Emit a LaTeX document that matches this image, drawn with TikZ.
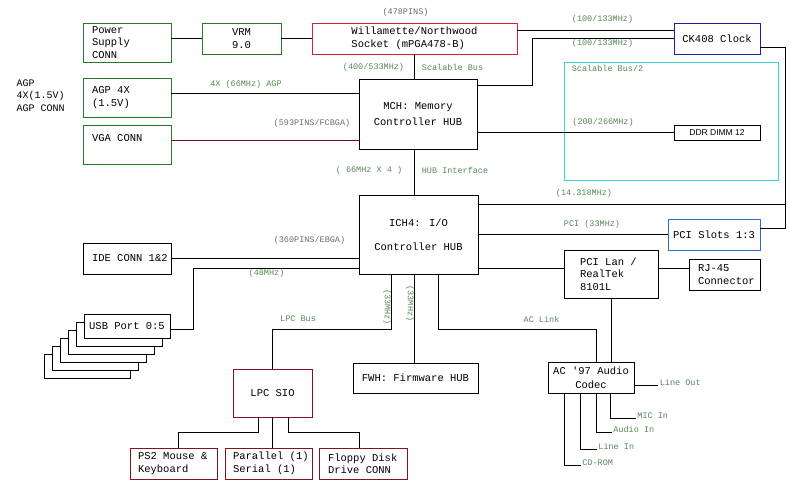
\documentclass[tikz,border=0pt]{standalone}
\usepackage{fontspec}
\newfontfamily\courfont{Liberation Mono}[Ligatures=TeXOff, WordSpace={1,0,0}]
\newfontfamily\arialfont{Liberation Sans}
\usetikzlibrary{calc}
\definecolor{boxgreen}{RGB}{40,120,40}
\definecolor{lblgreen}{RGB}{85,135,85}
\definecolor{pingray}{RGB}{105,105,105}
\definecolor{cpured}{RGB}{205,35,50}
\definecolor{siored}{RGB}{130,20,30}
\definecolor{vgaline}{RGB}{125,0,50}
\definecolor{clkblue}{RGB}{30,30,165}
\definecolor{pciblue}{RGB}{45,110,200}
\definecolor{sbcyan}{RGB}{60,215,220}

\begin{document}
\begin{tikzpicture}[
  x=1pt, y=-1pt,
  box/.style={draw=black, line width=0.8pt, inner sep=0pt, align=center,
              font=\courfont\fontsize{10.5}{12.5}\selectfont},
  sz/.style 2 args={minimum width=#1, minimum height=#2},
  lft/.style={align=left, text width=#1,
              execute at begin node={\spaceskip=0pt\xspaceskip=0pt\relax}},
  lbl/.style={font=\courfont\fontsize{8.5}{10}\selectfont, text=lblgreen, inner sep=1pt},
  pin/.style={lbl, text=pingray},
  wire/.style={draw=black, line width=0.8pt}
]
\useasboundingbox (0,0) rectangle (789,481);

% ================================================= 1. CPU, MCH and clock
\node[box, draw=boxgreen, sz={88}{39}, lft=70] (psu) at (127,42.5) {Power\\Supply\\CONN};
\node[box, draw=boxgreen, sz={79}{31}] (vrm) at (241.5,38.5) {VRM\\9.0};
\node[box, draw=cpured, sz={205}{31}, align=left] (cpu) at (414.5,38.5)
  {Willamette/Northwood\\Socket (mPGA478-B)};
\node[box, draw=clkblue, sz={86}{31}] (clk) at (717,38.5) {CK408 Clock};
\node[box, draw=boxgreen, sz={88}{39}, lft=70] (agp) at (127,97.5) {AGP~4X\\(1.5V)};
\node[box, draw=boxgreen, sz={88}{39}, lft=70] (vga) at (127,144.5) {VGA~CONN\\\mbox{}};
\node[box, sz={118}{70}] (mch) at (418,114) {MCH: Memory\\[3.5pt]Controller HUB};
\node[box, draw=sbcyan, sz={214}{118}] (sbus) at (671,121) {};
\node[box, sz={86}{15}, font=\arialfont\fontsize{8.5}{10}\selectfont] (ddr) at (717,132.5) {DDR DIMM 12};
\node[font=\courfont\fontsize{10}{12.5}\selectfont, align=left, anchor=west] (agpc) at (13,95.5)
  {AGP\\4X(1.5V)\\AGP CONN};

\coordinate (kb) at (532,85);
\coordinate (cr) at (785,47);

\draw[wire] (psu.east |- vrm.west) -- (vrm.west);
\draw[wire] (vrm.east) -- (cpu.west);
\draw[wire] (cpu.south) -- (cpu.south |- mch.north);
\draw[wire] ([yshift=8.5]cpu.east) -- ([yshift=8.5]clk.west);
\draw[wire] (clk.west) -| (kb) -- (kb -| mch.east);
\draw[wire] ([yshift=4.5]agp.east) -- ([yshift=4.5]agp.east -| mch.west);
\draw[wire, draw=vgaline] ([yshift=4.5]vga.east) -- ([yshift=4.5]vga.east -| mch.west);
\draw[wire] (ddr.west) -- (ddr.west -| mch.east);

\node[pin] (p478) at (405.5,12) {(478PINS)};
\node[lbl] (fsb) at (373.5,67) {(400/533MHz)};
\node[lbl] (sbl) at (452.5,67) {Scalable Bus};
\node[lbl] (agpl) at (246,84) {4X (66MHz) AGP};
\node[pin] (p593) at (312,123) {(593PINS/FCBGA)};
\node[lbl] (ck1) at (602.5,19) {(100/133MHz)};
\node[lbl] (ck2) at (602.5,43) {(100/133MHz)};
\node[lbl] (sb2) at (607.5,68) {Scalable Bus/2};
\node[lbl] (ddrl) at (603,122) {(200/266MHz)};

% ================================================= 2. ICH4 and its devices
\node[box, sz={119}{79}] (ich) at (418.5,234.5) {ICH4: I/O\\[11.5pt]Controller HUB};
\node[box, draw=pciblue, sz={92}{31}] (slots) at (714,234.5) {PCI Slots 1:3};
\node[box, sz={94}{48}, lft=62] (lan) at (611,274) {PCI~Lan~/\\RealTek\\8101L};
\node[box, sz={71}{31}, lft=53] (rj) at (724.5,274.5) {RJ-45\\Connector};
\node[box, sz={88}{31}, lft=70] (ide) at (127,258.5) {IDE~CONN~1\&2};
\coordinate (usbc) at (127,326);
\foreach \k in {5,4,3,2,1}
  \node[box, sz={86}{24}, fill=white] (usb\k) at ([shift={({-8*\k},{8*\k})}]usbc) {};
\node[box, sz={86}{24}, fill=white] (usb) at (usbc) {USB Port 0:5};
\node[box, sz={125}{30}] (fwh) at (415.5,378) {FWH: Firmware HUB};
\node[box, sz={86}{31}] (ac) at (591,377.5) {AC '97 Audio\\[1.5pt]Codec};

\draw[wire] (cpu.south |- mch.south) -- (cpu.south |- ich.north);
\draw[wire] ([yshift=-8.5]clk.east) -- (cr) |- ([yshift=6.5]slots.east);
\draw[wire] ([yshift=30.5]ich.east) -- ([yshift=30.5]ich.east -| cr);
\draw[wire] (ich.east) -- (slots.west);
\draw[wire] ([yshift=6]lan.west) -- ([yshift=6]lan.west -| ich.east);
\draw[wire] ([yshift=6]lan.east) -- ([yshift=6]lan.east -| rj.west);
\draw[wire] (lan.south) -- (lan.south |- ac.north);
\draw[wire] ([xshift=19.5]ich.south) -- ++(0,55) -| ([xshift=5]ac.north);
\draw[wire] ([xshift=-4.5]ich.south) -- ([xshift=-4.5]ich.south |- fwh.north);
\draw[wire] (ide.east) -- (ide.east -| ich.west);
\draw[wire] ([yshift=-3]usb.east) -- ++(23,0) |- ([yshift=-33.5]ich.west);

\draw[wire] ([yshift=-7.5]ac.east) -- ++(24,0)
  node[lbl, anchor=base west] (lout) {Line Out};
\foreach \dx/\dy/\len/\txt/\nm in {19/25/26/MIC In/mic, 5/39/16/Audio In/ain,
                                   -11/56/17/Line In/lin, -27/72/17/CD-ROM/cdr}
  \draw[wire] ([xshift=\dx]ac.south) -- ++(0,\dy) -- ++(\len,0)
    node[lbl, anchor=base west] (\nm) {\txt};

\node[lbl] (hubl) at (369,170) {( 66MHz X 4 )};
\node[lbl] (hubi) at (455,170) {HUB Interface};
\node[lbl] (osc) at (584,193) {(14.318MHz)};
\node[lbl] (pcil) at (592,224) {PCI (33MHz)};
\node[pin] (p360) at (309.5,240) {(360PINS/EBGA)};
\node[lbl] (usbl) at (266.5,273) {(48MHz)};
\node[lbl] (acl) at (541.5,319) {AC Link};

% ================================================= 3. LPC super I/O
\node[box, draw=siored, sz={79}{48}] (sio) at (272.5,393) {LPC SIO};
\node[box, draw=siored, sz={87}{31}, lft=71] (ps2) at (173.5,463.5) {PS2~Mouse~\&\\Keyboard};
\node[box, draw=siored, sz={87}{31}, lft=71] (par) at (268.5,463.5) {Parallel~(1)\\Serial~(1)};
\node[box, draw=siored, sz={88}{31}, lft=70] (fdd) at (363,463.5) {Floppy~Disk\\Drive~CONN};

\draw[wire] ([xshift=-27.5]ich.south) -- ++(0,55) -| (sio.north);
\draw[wire] ([xshift=-14.5]sio.south) -- ++(0,15) -| ([xshift=4.5]ps2.north);
\draw[wire] (sio.south) -- (sio.south |- par.north);
\draw[wire] ([xshift=15.5]sio.south) -- ++(0,15) -| ([xshift=-4]fdd.north);

\node[lbl] (lpcl) at (298,319) {LPC Bus};
\node[lbl, rotate=-90] (lpcm) at (387,307) {(33MHz)};
\node[lbl, rotate=-90] (fwhm) at (410,303.5) {(33MHz)};

\end{tikzpicture}
\end{document}
